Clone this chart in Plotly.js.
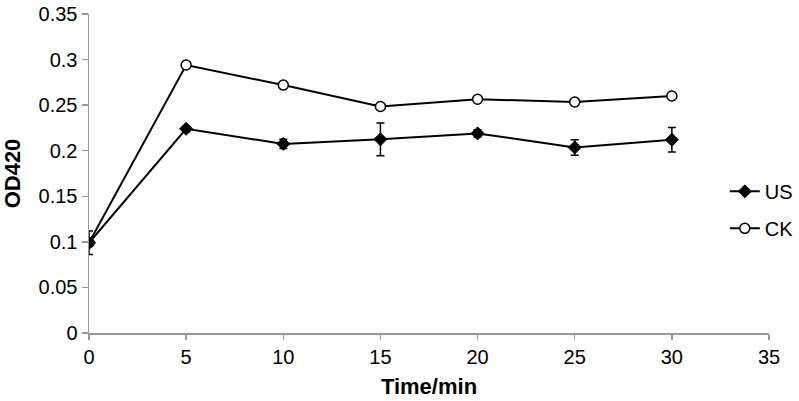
<!DOCTYPE html>
<html>
<head>
<meta charset="utf-8">
<script src="https://cdn.plot.ly/plotly-3.0.1.min.js"></script>
<style>html,body{margin:0;padding:0;background:#fff;}#chart{width:799px;height:401px;}</style>
</head>
<body>
<div id="chart"></div>
<script>
const timeMin = [0, 5, 10, 15, 20, 25, 30];
const usOD = [0.099, 0.224, 0.2075, 0.2125, 0.219, 0.2035, 0.212];
const usErr = [0.013, 0.003, 0.005, 0.018, 0.004, 0.0085, 0.0135];
const ckOD = [0.099, 0.294, 0.272, 0.2485, 0.2565, 0.2535, 0.260];
const ckErr = [0.001, 0.001, 0.001, 0.001, 0.001, 0.001, 0.001];

const font = "Liberation Sans, Arial, sans-serif";

const traces = [
  {
    x: timeMin, y: ckOD, name: 'CK', type: 'scatter', mode: 'lines+markers',
    line: {color: '#000', width: 2},
    marker: {symbol: 'circle', size: 10, color: '#fff', line: {color: '#000', width: 1.5}},
    error_y: {type: 'data', array: ckErr, visible: true, color: '#000', thickness: 1.5, width: 4},
    legendrank: 2, legendgroup: 'ck'
  },
  {
    x: timeMin, y: usOD, name: 'US', type: 'scatter', mode: 'lines+markers',
    line: {color: '#000', width: 2},
    marker: {symbol: 'diamond', size: 10, color: '#000', line: {color: '#000', width: 1}},
    error_y: {type: 'data', array: usErr, visible: true, color: '#000', thickness: 1.5, width: 4},
    legendrank: 1, legendgroup: 'us'
  }
];

const layout = {
  width: 799, height: 401,
  margin: {l: 89, r: 30, t: 14, b: 68, autoexpand: false},
  paper_bgcolor: '#fff', plot_bgcolor: '#fff',
  font: {family: font, size: 20, color: '#000'},
  showlegend: true,
  legend: {x: 0.935, y: 0.386, xanchor: 'left', yanchor: 'middle', bgcolor: 'rgba(0,0,0,0)',
           font: {family: font, size: 20, color: '#000'}, itemwidth: 30, tracegroupgap: 8},
  xaxis: {
    range: [0, 35], dtick: 5, tick0: 0, showgrid: false, zeroline: false,
    showline: true, linecolor: '#999', linewidth: 1.5,
    ticks: 'outside', ticklen: 5, tickcolor: '#999', tickwidth: 1.5,
    tickfont: {family: font, size: 20, color: '#000'},
    title: {text: '<b>Time/min</b>', font: {family: font, size: 22, color: '#000'}, standoff: 12}
  },
  yaxis: {
    range: [0, 0.35], dtick: 0.05, tick0: 0, showgrid: false, zeroline: false,
    showline: true, linecolor: '#999', linewidth: 1.5,
    ticks: 'outside', ticklen: 6, tickcolor: '#999', tickwidth: 1.5,
    tickfont: {family: font, size: 20, color: '#000'},
    title: {text: '<b>OD420</b>', font: {family: font, size: 22, color: '#000'}, standoff: 12}
  }
};

Plotly.newPlot('chart', traces, layout, {displayModeBar: false, staticPlot: true});
</script>
</body>
</html>
